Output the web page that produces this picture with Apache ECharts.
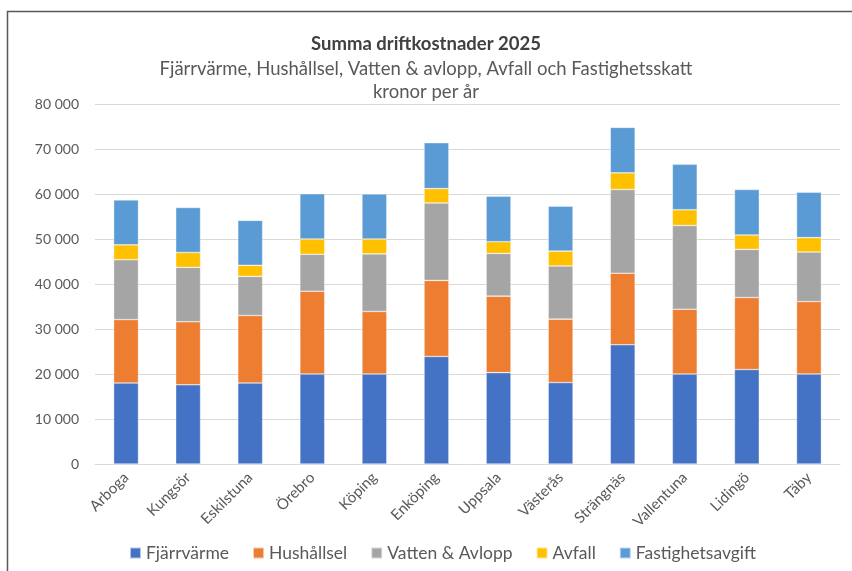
<!DOCTYPE html>
<html>
<head>
<meta charset="utf-8">
<script src="https://cdn.jsdelivr.net/npm/echarts@6/dist/echarts.min.js"></script>
<style>
  html, body { margin: 0; padding: 0; background: #fff; }
  #chart { width: 852px; height: 571px; }
</style>
</head>
<body>
<div id="chart"></div>
<script>
  // kommuner
  var cities = ['Arboga', 'Kungsör', 'Eskilstuna', 'Örebro', 'Köping', 'Enköping',
    'Uppsala', 'Västerås', 'Strängnäs', 'Vallentuna', 'Lidingö', 'Täby'];

  // kostnader per kategori (kr/år)
  var fjarrvarme = [18000, 17600, 18000, 20000, 20000, 23900, 20300, 18100, 26500, 20000, 21000, 20000];
  var hushallsel = [14100, 14000, 15000, 18400, 13900, 16900, 17000, 14100, 15900, 14400, 16000, 16100];
  var vattenAvlopp = [13300, 12100, 8700, 8200, 12800, 17200, 9500, 11800, 18600, 18600, 10700, 11000];
  var avfall = [3300, 3300, 2450, 3400, 3300, 3200, 2600, 3300, 3700, 3500, 3200, 3200];
  var fastighetsavgift = [10000, 10000, 10000, 10050, 10000, 10200, 10100, 10000, 10100, 10100, 10100, 10100];

  var seriesNames = ['Fjärrvärme', 'Hushållsel', 'Vatten & Avlopp', 'Avfall', 'Fastighetsavgift'];
  var seriesData = [fjarrvarme, hushallsel, vattenAvlopp, avfall, fastighetsavgift];
  var colors = ['#4472C4', '#ED7D31', '#A5A5A5', '#FFC000', '#5B9BD5'];

  var font = 'Lato, "Noto Sans", sans-serif';

  var chart = echarts.init(document.getElementById('chart'));
  chart.setOption({
    animation: false,
    color: colors,
    textStyle: { fontFamily: font },
    title: [{
      text: 'Summa driftkostnader 2025',
      left: 'center',
      top: 30,
      textStyle: { fontFamily: font, fontSize: 18.5, fontWeight: 'bold', color: '#404040' }
    }, {
      text: 'Fjärrvärme, Hushållsel, Vatten & avlopp, Avfall och Fastighetsskatt\nkronor per år',
      left: 'center',
      top: 53,
      textStyle: { fontFamily: font, fontSize: 18.5, fontWeight: 'normal', color: '#595959', lineHeight: 23 }
    }],
    legend: {
      bottom: 4,
      left: 124,
      itemWidth: 11,
      itemHeight: 11,
      itemGap: 23,
      icon: 'rect',
      textStyle: { fontFamily: font, fontSize: 17.5, color: '#595959' },
      data: seriesNames
    },
    grid: {
      left: 95,
      right: 12,
      top: 104,
      bottom: 107
    },
    xAxis: {
      type: 'category',
      data: cities,
      axisLine: { lineStyle: { color: '#D9D9D9' } },
      axisTick: { show: false },
      axisLabel: {
        rotate: 45,
        fontFamily: font,
        fontSize: 15,
        color: '#595959',
        margin: 11
      }
    },
    yAxis: {
      type: 'value',
      min: 0,
      max: 80000,
      interval: 10000,
      axisLine: { show: false },
      axisTick: { show: false },
      splitLine: { lineStyle: { color: '#D9D9D9' } },
      axisLabel: {
        fontFamily: font,
        fontSize: 14,
        color: '#595959',
        margin: 16,
        formatter: function (v) {
          return String(v).replace(/\B(?=(\d{3})+(?!\d))/g, ' ');
        }
      }
    },
    series: seriesNames.map(function (name, i) {
      return {
        name: name,
        type: 'bar',
        stack: 'total',
        barWidth: '40%',
        data: seriesData[i],
        itemStyle: { borderColor: 'rgba(255,255,255,0.6)', borderWidth: 0.6 }
      };
    }),
    graphic: [{
      type: 'polyline',
      shape: { points: [[7.5, 571], [7.5, 11.5], [852, 11.5]] },
      style: { stroke: '#595959', lineWidth: 1.5, fill: null }
    }]
  });
</script>
</body>
</html>
